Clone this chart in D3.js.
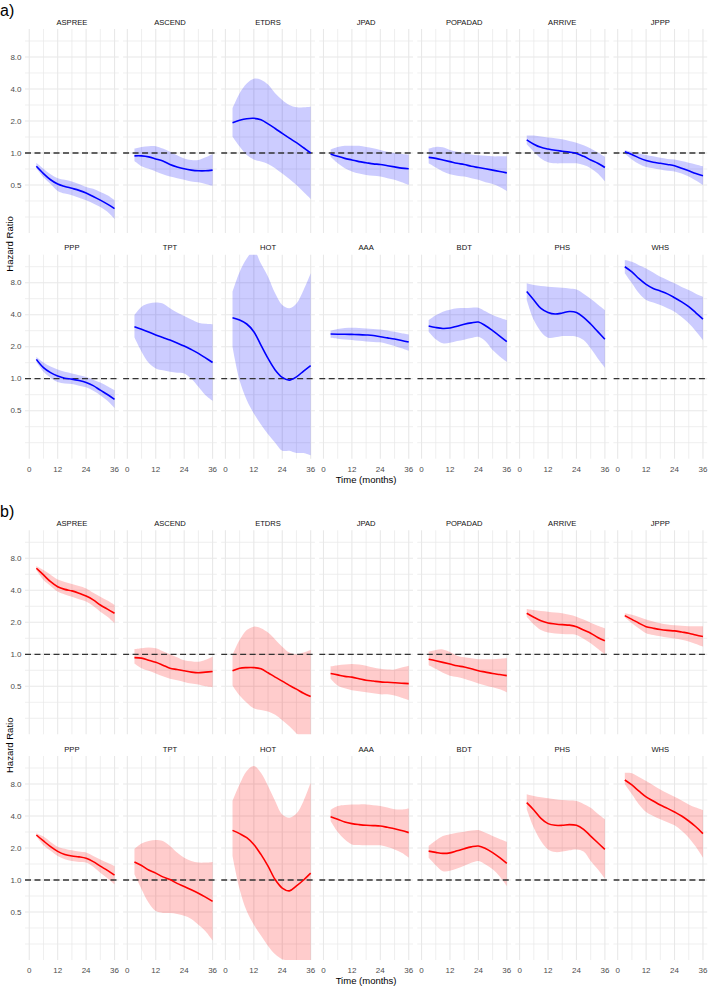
<!DOCTYPE html>
<html><head><meta charset="utf-8">
<script src="https://cdn.jsdelivr.net/npm/d3@7"></script>
<style>body{margin:0;background:#fff}svg{display:block}text{font-family:"Liberation Sans",Arial,sans-serif}</style>
</head><body>
<script>
const months = [3,6,9,12,15,18,21,24,27,30,33,36];
const studies = ["ASPREE","ASCEND","ETDRS","JPAD","POPADAD","ARRIVE","JPPP","PPP","TPT","HOT","AAA","BDT","PHS","WHS"];
const yTicks = [0.5,1,2,4,8];
const yTickLabels = ["0.5","1.0","2.0","4.0","8.0"];
const xTicks = [0,12,24,36];
const panelLabels = ["a)","b)"];

// Panel a
const hrA = [
 [0.75,0.64,0.56,0.51,0.485,0.465,0.445,0.42,0.39,0.36,0.33,0.30],
 [0.94,0.94,0.92,0.88,0.84,0.78,0.74,0.71,0.69,0.68,0.68,0.69],
 [1.93,2.03,2.10,2.12,2.05,1.88,1.70,1.53,1.38,1.25,1.12,1.00],
 [0.98,0.93,0.89,0.86,0.83,0.81,0.79,0.78,0.76,0.74,0.72,0.71],
 [0.91,0.89,0.86,0.83,0.80,0.78,0.75,0.73,0.71,0.69,0.67,0.65],
 [1.33,1.21,1.13,1.09,1.06,1.04,1.02,0.99,0.93,0.86,0.80,0.73],
 [1.03,0.97,0.90,0.85,0.82,0.80,0.78,0.76,0.72,0.68,0.64,0.61],
 [1.52,1.27,1.14,1.06,1.01,0.99,0.96,0.92,0.86,0.78,0.71,0.64],
 [3.08,2.92,2.75,2.58,2.44,2.31,2.17,2.03,1.88,1.73,1.57,1.42],
 [3.75,3.56,3.27,2.77,2.07,1.55,1.21,1.03,0.97,1.04,1.18,1.33],
 [2.63,2.62,2.62,2.61,2.60,2.58,2.55,2.48,2.42,2.36,2.29,2.21],
 [3.13,3.03,2.97,3.00,3.12,3.25,3.35,3.41,3.15,2.83,2.52,2.23],
 [6.60,5.50,4.59,4.20,4.06,4.15,4.29,4.20,3.78,3.27,2.77,2.35],
 [11.3,10.1,8.72,7.71,7.06,6.68,6.28,5.78,5.28,4.76,4.17,3.64]
];
const loA = [
 [0.72,0.59,0.51,0.44,0.415,0.40,0.38,0.36,0.335,0.31,0.28,0.24],
 [0.84,0.75,0.71,0.67,0.63,0.60,0.58,0.56,0.54,0.53,0.51,0.49],
 [1.42,1.15,0.96,0.87,0.83,0.79,0.72,0.64,0.57,0.50,0.43,0.37],
 [0.92,0.80,0.72,0.67,0.64,0.62,0.61,0.60,0.58,0.56,0.53,0.50],
 [0.80,0.73,0.67,0.63,0.61,0.60,0.58,0.56,0.53,0.51,0.48,0.44],
 [1.21,1.03,0.89,0.82,0.80,0.80,0.80,0.80,0.77,0.72,0.64,0.54],
 [0.99,0.87,0.79,0.74,0.72,0.70,0.68,0.67,0.64,0.60,0.55,0.50],
 [1.44,1.16,1.02,0.93,0.90,0.89,0.86,0.83,0.77,0.70,0.62,0.53],
 [2.45,1.79,1.41,1.25,1.20,1.16,1.14,1.12,1.00,0.84,0.70,0.62],
 [2.00,0.96,0.63,0.47,0.37,0.30,0.25,0.21,0.21,0.20,0.20,0.19],
 [2.43,2.38,2.34,2.31,2.27,2.24,2.22,2.20,2.12,2.03,1.93,1.83],
 [2.77,2.35,2.15,2.18,2.26,2.33,2.42,2.48,2.25,1.86,1.62,1.44],
 [5.50,3.56,2.77,2.43,2.45,2.52,2.52,2.48,2.31,1.93,1.55,1.27],
 [9.80,7.89,6.35,5.50,5.20,4.93,4.60,4.27,3.80,3.32,2.80,2.31]
];
const hiA = [
 [0.81,0.71,0.63,0.58,0.56,0.54,0.51,0.48,0.46,0.43,0.40,0.36],
 [1.10,1.14,1.16,1.16,1.10,1.03,0.95,0.89,0.86,0.86,0.91,0.98],
 [2.63,3.64,4.50,5.00,4.90,4.40,3.64,3.15,2.83,2.69,2.70,2.73],
 [1.08,1.14,1.17,1.17,1.17,1.14,1.11,1.07,1.03,1.00,0.98,0.97],
 [1.10,1.14,1.13,1.07,1.03,1.00,0.97,0.95,0.94,0.93,0.93,0.93],
 [1.46,1.46,1.43,1.40,1.38,1.35,1.30,1.25,1.18,1.10,1.01,0.92],
 [1.07,1.03,0.99,0.96,0.93,0.90,0.88,0.87,0.84,0.81,0.78,0.75],
 [1.61,1.42,1.30,1.22,1.16,1.12,1.08,1.04,0.98,0.92,0.85,0.78],
 [3.97,4.76,5.10,5.20,5.10,4.60,4.20,3.89,3.60,3.36,3.28,3.25],
 [6.58,10.1,13.5,16.0,12.1,9.10,6.35,4.93,4.59,5.10,6.82,9.80],
 [2.83,2.93,3.00,3.02,3.00,2.97,2.94,2.91,2.84,2.76,2.68,2.61],
 [3.56,3.95,4.27,4.45,4.59,4.62,4.66,4.66,4.30,3.97,3.75,3.56],
 [7.89,7.60,7.45,7.34,7.25,7.17,7.05,6.90,6.30,5.66,5.00,4.43],
 [13.1,12.6,11.7,10.9,10.0,9.10,8.50,7.89,7.30,6.82,6.30,5.90]
];

// Panel b
const hrB = [
 [6.45,5.58,4.82,4.32,4.08,3.95,3.75,3.53,3.25,2.91,2.66,2.43],
 [0.93,0.92,0.88,0.84,0.79,0.74,0.72,0.70,0.68,0.67,0.68,0.69],
 [0.70,0.74,0.75,0.75,0.73,0.67,0.61,0.56,0.51,0.47,0.43,0.40],
 [0.66,0.64,0.62,0.61,0.59,0.57,0.56,0.55,0.545,0.54,0.535,0.53],
 [0.90,0.87,0.84,0.81,0.78,0.76,0.73,0.70,0.68,0.66,0.645,0.63],
 [2.43,2.23,2.07,1.97,1.93,1.90,1.88,1.82,1.69,1.58,1.44,1.34],
 [2.31,2.13,1.96,1.82,1.76,1.71,1.68,1.66,1.62,1.58,1.52,1.47],
 [2.65,2.33,2.06,1.86,1.74,1.68,1.65,1.60,1.49,1.35,1.23,1.11],
 [1.48,1.37,1.24,1.16,1.07,1.01,0.93,0.87,0.81,0.75,0.69,0.63],
 [2.93,2.73,2.50,2.16,1.74,1.35,1.01,0.84,0.79,0.88,1.00,1.16],
 [3.94,3.73,3.51,3.39,3.32,3.27,3.25,3.22,3.13,3.04,2.92,2.79],
 [1.87,1.82,1.78,1.80,1.88,1.97,2.05,2.09,1.98,1.81,1.62,1.43],
 [5.34,4.56,3.80,3.39,3.27,3.27,3.32,3.27,3.00,2.59,2.24,1.94],
 [8.72,7.83,6.86,6.06,5.54,5.07,4.72,4.36,4.00,3.59,3.17,2.73]
];
const loB = [
 [6.20,5.00,4.40,3.89,3.65,3.48,3.30,3.13,2.85,2.52,2.25,1.96],
 [0.82,0.74,0.70,0.66,0.62,0.59,0.57,0.55,0.53,0.52,0.50,0.49],
 [0.51,0.41,0.35,0.31,0.30,0.29,0.27,0.24,0.21,0.18,0.16,0.15],
 [0.59,0.51,0.48,0.46,0.45,0.44,0.43,0.42,0.42,0.41,0.39,0.37],
 [0.79,0.73,0.67,0.63,0.61,0.59,0.56,0.53,0.51,0.49,0.47,0.44],
 [2.26,1.91,1.69,1.60,1.57,1.55,1.54,1.52,1.40,1.27,1.13,1.00],
 [2.23,1.96,1.75,1.58,1.52,1.48,1.44,1.41,1.37,1.32,1.25,1.18],
 [2.56,2.12,1.88,1.68,1.57,1.51,1.48,1.46,1.33,1.17,1.04,0.91],
 [1.13,0.82,0.61,0.51,0.49,0.49,0.48,0.46,0.43,0.38,0.33,0.27],
 [1.68,0.82,0.51,0.38,0.30,0.24,0.20,0.18,0.175,0.175,0.172,0.17],
 [3.59,2.83,2.40,2.16,2.13,2.12,2.12,2.12,2.04,1.94,1.80,1.62],
 [1.62,1.38,1.21,1.22,1.28,1.36,1.45,1.51,1.40,1.26,1.08,0.88],
 [4.62,3.10,2.33,1.94,1.83,1.85,1.90,1.94,1.85,1.51,1.26,1.03],
 [7.94,6.40,5.14,4.36,4.00,3.73,3.50,3.27,2.90,2.50,2.05,1.62]
];
const hiB = [
 [6.77,6.20,5.60,5.06,4.80,4.59,4.38,4.17,3.80,3.48,3.20,2.91],
 [1.12,1.14,1.16,1.14,1.07,1.00,0.94,0.88,0.86,0.85,0.89,0.95],
 [0.99,1.36,1.69,1.82,1.76,1.60,1.38,1.18,1.04,1.00,1.04,1.10],
 [0.77,0.79,0.80,0.81,0.80,0.78,0.75,0.73,0.72,0.72,0.75,0.78],
 [1.06,1.10,1.11,1.05,0.97,0.94,0.92,0.90,0.90,0.90,0.91,0.92],
 [2.67,2.61,2.56,2.52,2.47,2.43,2.35,2.26,2.12,1.98,1.86,1.76],
 [2.43,2.35,2.24,2.13,2.04,1.96,1.91,1.88,1.86,1.84,1.84,1.84],
 [2.75,2.56,2.28,2.06,1.97,1.90,1.85,1.81,1.68,1.56,1.45,1.35],
 [1.97,2.21,2.33,2.38,2.33,2.09,1.81,1.62,1.51,1.46,1.46,1.48],
 [5.54,7.94,10.6,11.8,10.2,7.67,5.54,4.14,3.86,4.23,5.54,8.20],
 [4.56,4.96,5.08,5.14,5.14,5.14,5.05,4.96,4.80,4.63,4.60,4.70],
 [2.09,2.35,2.59,2.70,2.79,2.85,2.92,2.95,2.78,2.59,2.43,2.28],
 [6.40,6.17,6.00,5.87,5.76,5.66,5.60,5.54,5.20,4.78,4.20,3.73],
 [10.2,10.1,9.30,8.53,7.80,7.10,6.55,6.06,5.60,5.14,4.80,4.55]
];

const W = 708, H = 986;
const svg = d3.select("body").append("svg").attr("width", W).attr("height", H);

const panelLeft = 25, panelW = 93.8, panelStep = 98.07, panelH = 204;
const x = d3.scaleLinear().domain([-1.8, 37.8]).range([0, panelW]);
const y = d3.scaleLog().base(2).domain([Math.pow(2,-2.5), Math.pow(2,3.875)]).range([panelH, 0]);
const gridY = [0.25, 0.3536, 0.5, 0.7071, 1, 1.4142, 2, 2.8284, 4, 5.6569, 8, 11.3137];
const gridX = [0,6,12,18,24,30,36];
const curve = d3.curveCatmullRom.alpha(0.5);

let clipId = 0;
function drawBlock(offY, label, hr, lo, hi, color, fillColor) {
  const rowTops = [offY + 29, offY + 254.7];
  svg.append("text").attr("x", 0).attr("y", offY + 16).attr("font-size", 16).attr("fill", "#000").text(label);
  studies.forEach((name, i) => {
    const r = Math.floor(i / 7), c = i % 7;
    const gx = panelLeft + c * panelStep, gy = rowTops[r];
    const g = svg.append("g").attr("transform", `translate(${gx},${gy})`);
    g.selectAll("line.gy").data(gridY).enter().append("line")
      .attr("x1", 0).attr("x2", panelW).attr("y1", d => y(d)).attr("y2", d => y(d))
      .attr("stroke", "#e8e8e8").attr("stroke-width", d => yTicks.includes(d) ? 1.1 : 0.7);
    g.selectAll("line.gx").data(gridX).enter().append("line")
      .attr("y1", 0).attr("y2", panelH).attr("x1", d => x(d)).attr("x2", d => x(d))
      .attr("stroke", "#e8e8e8").attr("stroke-width", d => xTicks.includes(d) ? 1.1 : 0.7);
    g.append("text").attr("x", panelW / 2).attr("y", -4.5).attr("text-anchor", "middle")
      .attr("font-size", 7.6).attr("fill", "#111").text(name);
    const id = "clip" + (clipId++);
    g.append("clipPath").attr("id", id).append("rect").attr("width", panelW).attr("height", panelH);
    const data = months.map((m, k) => ({ m, hr: hr[i][k], lo: lo[i][k], hi: hi[i][k] }));
    const inner = g.append("g").attr("clip-path", `url(#${id})`);
    inner.append("path").datum(data)
      .attr("d", d3.area().x(d => x(d.m)).y0(d => y(d.lo)).y1(d => y(d.hi)).curve(curve))
      .attr("fill", fillColor);
    inner.append("line").attr("x1", 0).attr("x2", panelW).attr("y1", y(1)).attr("y2", y(1))
      .attr("stroke", "#333").attr("stroke-width", 1.3).attr("stroke-dasharray", "6,3.5");
    inner.append("path").datum(data)
      .attr("d", d3.line().x(d => x(d.m)).y(d => y(d.hr)).curve(curve))
      .attr("fill", "none").attr("stroke", color).attr("stroke-width", 1.6);
    if (c === 0) {
      g.selectAll("text.yt").data(yTicks).enter().append("text")
        .attr("x", -3.5).attr("y", d => y(d)).attr("dy", "0.35em").attr("text-anchor", "end")
        .attr("font-size", 8).attr("fill", "#4d4d4d").text((d, k) => yTickLabels[k]);
    }
    if (r === 1) {
      g.selectAll("text.xt").data(xTicks).enter().append("text")
        .attr("x", d => x(d)).attr("y", panelH + 10.6).attr("dy", "0.35em").attr("text-anchor", "middle")
        .attr("font-size", 8).attr("fill", "#4d4d4d").text(d => d);
    }
  });
  const fullW = 6 * panelStep + panelW;
  svg.append("text").attr("x", panelLeft + fullW / 2).attr("y", offY + 483)
    .attr("text-anchor", "middle").attr("font-size", 9.5).attr("fill", "#000").text("Time (months)");
  svg.append("text").attr("transform", `translate(${12.5},${offY + 244}) rotate(-90)`)
    .attr("text-anchor", "middle").attr("font-size", 9.5).attr("fill", "#000").text("Hazard Ratio");
}

drawBlock(0, panelLabels[0], hrA, loA, hiA, "#0000ff", "rgba(0,0,255,0.2)");
drawBlock(501.3, panelLabels[1], hrB, loB, hiB, "#ff0000", "rgba(255,0,0,0.2)");
</script>
</body></html>
